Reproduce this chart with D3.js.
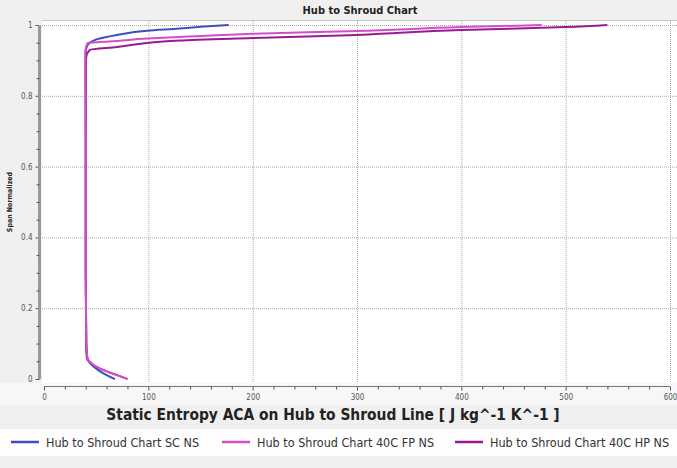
<!DOCTYPE html>
<html>
<head>
<meta charset="utf-8">
<script src="https://cdn.jsdelivr.net/npm/d3@7"></script>
<style>
  body { margin: 0; background: #f0f0f0; }
  svg { display: block; }
  text { font-family: "DejaVu Sans Condensed", "Liberation Sans Narrow", sans-serif; }
</style>
</head>
<body>
<div id="chart"></div>
<script>
// Series: x = static entropy, span = normalized span
const scX = [68, 60, 52, 44, 41, 40.5, 40, 40, 40, 40, 40, 41, 44, 51, 70, 99, 130, 150, 177];
const scSpan = [0, 0.011, 0.025, 0.045, 0.06, 0.1, 0.3, 0.5, 0.7, 0.9, 0.925, 0.938, 0.95, 0.96, 0.972, 0.984, 0.99, 0.995, 1];

const fpX = [80, 70, 57, 45, 41.5, 40.5, 40, 40, 40, 39.5, 39.5, 40.5, 42, 54, 70, 99, 130, 200, 300, 400, 477];
const fpSpan = [0, 0.011, 0.025, 0.045, 0.06, 0.1, 0.3, 0.5, 0.7, 0.88, 0.92, 0.94, 0.949, 0.952, 0.955, 0.962, 0.966, 0.975, 0.983, 0.994, 1];

const hpX = [80, 70, 57, 45, 41.5, 40.5, 40, 40, 40, 40, 40.5, 44, 70, 130, 200, 300, 400, 500, 540];
const hpSpan = [0, 0.011, 0.025, 0.045, 0.06, 0.1, 0.3, 0.5, 0.7, 0.88, 0.91, 0.93, 0.938, 0.956, 0.963, 0.972, 0.986, 0.994, 1];

const seriesNames = ['Hub to Shroud Chart SC NS', 'Hub to Shroud Chart 40C FP NS', 'Hub to Shroud Chart 40C HP NS'];
const seriesColors = ['#3f4fbf', '#d24fc8', '#9a1a92'];
const drawOrder = [0, 2, 1];

const xTicks = [0, 100, 200, 300, 400, 500, 600];
const yTicks = [0, 0.2, 0.4, 0.6, 0.8, 1];

const W = 677, H = 468;
const svg = d3.select('#chart').append('svg')
  .attr('width', W)
  .attr('height', H);

const x = d3.scaleLinear().domain([0, 600]).range([44, 670]);
const y = d3.scaleLinear().domain([0, 1]).range([379, 25]);

// background bands
svg.append('rect').attr('x', 0).attr('y', 0).attr('width', W).attr('height', H).attr('fill', '#f0f0f0');
svg.append('rect').attr('x', 0).attr('y', 383).attr('width', W).attr('height', 22).attr('fill', '#f7f7f7');
svg.append('rect').attr('x', 0).attr('y', 429).attr('width', W).attr('height', 27).attr('fill', '#fdfdfd');

// plot area
svg.append('rect')
  .attr('x', 42).attr('y', 20)
  .attr('width', W - 42).attr('height', 363)
  .attr('fill', '#fff');
svg.append('line')
  .attr('x1', 42).attr('x2', W).attr('y1', 20.5).attr('y2', 20.5)
  .attr('stroke', '#c8c8c8');

// Title
svg.append('text')
  .attr('x', 360).attr('y', 14)
  .attr('text-anchor', 'middle')
  .attr('font-size', '11px')
  .attr('font-weight', 'bold')
  .attr('fill', '#222')
  .text('Hub to Shroud Chart');

// grid
const grid = svg.append('g');
xTicks.slice(1).forEach(t => {
  grid.append('line')
    .attr('x1', x(t) + 0.5).attr('x2', x(t) + 0.5)
    .attr('y1', 21).attr('y2', 383)
    .attr('stroke', '#aaa')
    .attr('stroke-dasharray', '1,1');
});
yTicks.slice(1).forEach(t => {
  grid.append('line')
    .attr('x1', 42).attr('x2', W)
    .attr('y1', y(t) + 0.5).attr('y2', y(t) + 0.5)
    .attr('stroke', '#aaa')
    .attr('stroke-dasharray', '1,1');
});

// Y axis
const yAxis = svg.append('g')
  .attr('transform', 'translate(39.5,0)')
  .call(d3.axisLeft(y).tickValues(yTicks).tickSize(4).tickPadding(3).tickFormat(d3.format('')));
yAxis.append('g')
  .call(d3.axisLeft(y).tickValues(d3.range(0.05, 1, 0.05).filter(v => Math.abs(v * 5 - Math.round(v * 5)) > 0.01)).tickSize(3).tickFormat(''));
yAxis.selectAll('.domain').attr('stroke', '#999').attr('stroke-width', 3).attr('d', `M0,${y(1)}V${y(0)}`);
yAxis.selectAll('line').attr('stroke', '#555');
yAxis.selectAll('text').attr('font-size', '8px').attr('fill', '#555');

svg.append('text')
  .attr('transform', `translate(12,${y(0.5)}) rotate(-90)`)
  .attr('text-anchor', 'middle')
  .attr('font-size', '7px')
  .attr('font-weight', 'bold')
  .attr('fill', '#222')
  .text('Span Normalized');

// X axis
const xAxis = svg.append('g')
  .attr('transform', 'translate(0,386.5)')
  .call(d3.axisBottom(x).tickValues(xTicks).tickSize(4).tickPadding(4));
xAxis.append('g')
  .call(d3.axisBottom(x).tickValues(d3.range(20, 600, 20).filter(v => v % 100 !== 0)).tickSize(3).tickFormat(''));
xAxis.selectAll('.domain').attr('stroke', '#777').attr('d', `M${x(0)},0H${x(600)}`);
xAxis.selectAll('line').attr('stroke', '#555');
xAxis.selectAll('text').attr('font-size', '8px').attr('fill', '#555');

svg.append('text')
  .attr('x', 333).attr('y', 420)
  .attr('text-anchor', 'middle')
  .attr('font-size', '15.4px')
  .attr('font-weight', 'bold')
  .attr('fill', '#222')
  .text('Static Entropy ACA on Hub to Shroud Line [ J kg^-1 K^-1 ]');

// lines
const line = d3.line()
  .x(d => x(d[0]))
  .y(d => y(d[1]))
  .curve(d3.curveMonotoneY);

const series = [
  d3.zip(scX, scSpan),
  d3.zip(fpX, fpSpan),
  d3.zip(hpX, hpSpan)
];

svg.append('g').selectAll('path')
  .data(drawOrder)
  .join('path')
  .attr('fill', 'none')
  .attr('stroke', i => seriesColors[i])
  .attr('stroke-width', 2)
  .attr('d', i => line(series[i]));

// legend
const legendX = [11, 222, 455];
const legend = svg.append('g').selectAll('g')
  .data(seriesNames)
  .join('g')
  .attr('transform', (d, i) => `translate(${legendX[i]},442)`);
legend.append('line')
  .attr('x1', 0).attr('x2', 28)
  .attr('stroke', (d, i) => seriesColors[i])
  .attr('stroke-width', 2.5);
legend.append('text')
  .attr('x', 35).attr('y', 4.5)
  .attr('font-size', '12.5px')
  .attr('fill', '#333')
  .text(d => d);
</script>
</body>
</html>
